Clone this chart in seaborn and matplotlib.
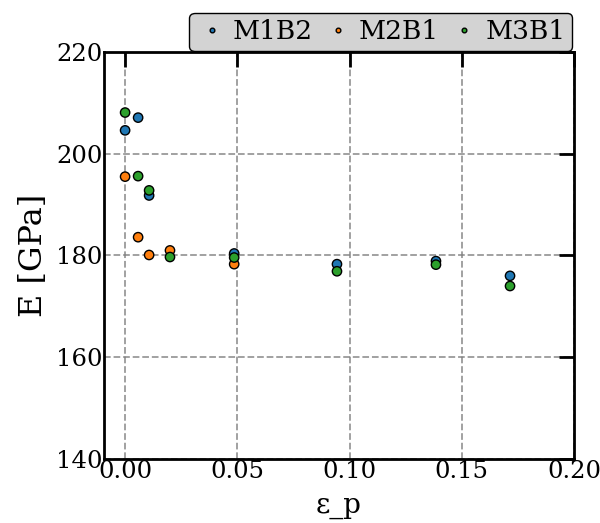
import pandas as pd
import numpy as np
import matplotlib.pyplot as plt
import seaborn as sns

# Datos
eps_m1b2 = [0.0, 0.0058, 0.0107, 0.0486, 0.0944, 0.1385, 0.1715]
E_m1b2 = [204.6, 207.1, 191.8, 180.4, 178.3, 178.9, 176.0]

eps_m2b1 = [0.0, 0.0058, 0.0107, 0.020, 0.0486]
E_m2b1 = [195.5, 183.6, 180.1, 181.0, 178.3]

eps_m3b1 = [0.0, 0.0058, 0.0107, 0.020, 0.0486, 0.0944, 0.1385, 0.1715]
E_m3b1 = [208.1, 195.6, 192.8, 179.7, 179.6, 176.9, 178.2, 174.0]

dados = pd.concat([
    pd.DataFrame({"eps": eps_m1b2, "E": E_m1b2, "amostra": "M1B2"}),
    pd.DataFrame({"eps": eps_m2b1, "E": E_m2b1, "amostra": "M2B1"}),
    pd.DataFrame({"eps": eps_m3b1, "E": E_m3b1, "amostra": "M3B1"}),
])

sns.set_style("white")
plt.rcParams["font.family"] = ["DejaVu Serif"]
plt.rcParams["text.color"] = "black"
plt.rcParams["axes.labelcolor"] = "black"

fig = plt.figure(figsize=(6, 5.23), dpi=100)
ax = fig.add_axes([104 / 600, 1 - 459 / 523, 470 / 600, 407 / 523])

sns.scatterplot(data=dados, x="eps", y="E", hue="amostra", palette="tab10",
                s=45, edgecolor="black", linewidth=1, ax=ax, zorder=3)

ax.set_xlim(-0.0094, 0.2)
ax.set_ylim(140, 220)
ax.set_xticks([0.0, 0.05, 0.10, 0.15, 0.20])
ax.set_yticks([140, 160, 180, 200, 220])
ax.set_xticklabels(["0.00", "0.05", "0.10", "0.15", "0.20"])
ax.grid(True, linestyle="--", color="gray", alpha=0.8, linewidth=1.3)
ax.tick_params(direction="in", length=11, width=2, labelsize=17.5,
               top=True, right=True, pad=1, colors="black")
for sp in ax.spines.values():
    sp.set_linewidth(2)
    sp.set_color("black")

ax.set_xlabel("ε_p", fontsize=20, labelpad=6)
ax.set_ylabel("E [GPa]", fontsize=23, labelpad=5)

leg = ax.legend(loc="lower right", bbox_to_anchor=(0.996, 1.003), ncol=3,
                fontsize=19, markerscale=0.5, handletextpad=0.2,
                handlelength=1.2, columnspacing=0.35, frameon=True,
                facecolor="lightgray", edgecolor="black", fancybox=True,
                borderpad=0.25, borderaxespad=0.0)
leg.get_frame().set_linewidth(1)
leg.get_frame().set_alpha(1)

fig.savefig("out.png", dpi=100)
